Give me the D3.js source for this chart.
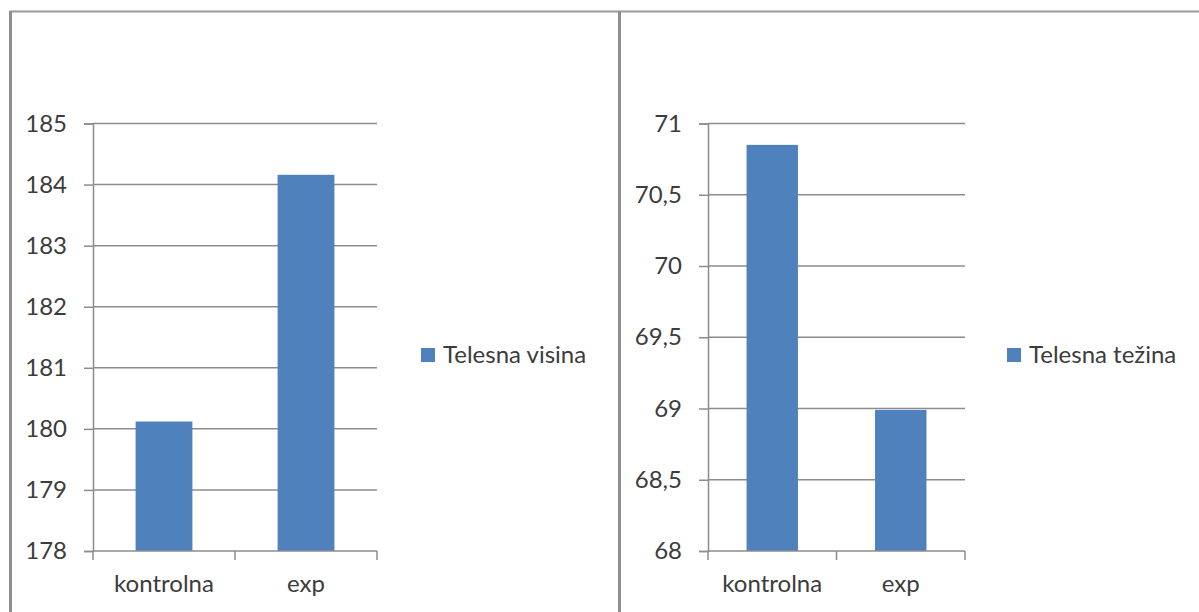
<!DOCTYPE html>
<html>
<head>
<meta charset="utf-8">
<script src="https://cdn.jsdelivr.net/npm/d3@7"></script>
<style>
  html, body { margin: 0; padding: 0; background: #fff; }
  svg { display: block; font-family: Lato, "Open Sans", sans-serif; }
</style>
</head>
<body>
<svg id="chart" width="1199" height="612"></svg>
<script>
// Group names shared by both panels
const categories = ["kontrolna", "exp"];

// Body height (cm) per group
const heightValues = [180.12, 184.16];
const heightTicks = [178, 179, 180, 181, 182, 183, 184, 185];
const heightSeries = "Telesna visina";

// Body weight (kg) per group
const weightValues = [70.85, 68.99];
const weightTicks = [68, 68.5, 69, 69.5, 70, 70.5, 71];
const weightSeries = "Telesna težina";

const barColor = "#4f81bd";
const gridColor = "#8c8c8c";
const textColor = "#3c3c3c";
const fontSize = 24;

const svg = d3.select("#chart");

// Frame lines around the two panels
svg.append("line").attr("x1", 9).attr("x2", 1199).attr("y1", 11.5).attr("y2", 11.5)
  .attr("stroke", "#9a9a9a").attr("stroke-width", 2);
svg.append("line").attr("x1", 10.5).attr("x2", 10.5).attr("y1", 11).attr("y2", 612)
  .attr("stroke", "#8f8f8f").attr("stroke-width", 3);
svg.append("line").attr("x1", 619.5).attr("x2", 619.5).attr("y1", 11).attr("y2", 612)
  .attr("stroke", "#8f8f8f").attr("stroke-width", 3);

function drawPanel(opts) {
  const { values, ticks, series, left, right, top, bottom, fmt, legendX } = opts;

  const x = d3.scaleBand().domain(categories).range([left, right])
    .paddingInner(0.6).paddingOuter(0.3);
  const y = d3.scaleLinear().domain([ticks[0], ticks[ticks.length - 1]]).range([bottom, top]);

  const g = svg.append("g");

  // Horizontal gridlines
  g.selectAll("line.grid").data(ticks.slice(1)).join("line")
    .attr("class", "grid")
    .attr("x1", left).attr("x2", right)
    .attr("y1", d => y(d)).attr("y2", d => y(d))
    .attr("stroke", gridColor).attr("stroke-width", 1.5);

  // Bars
  g.selectAll("rect.bar").data(values).join("rect")
    .attr("class", "bar")
    .attr("x", (d, i) => x(categories[i]))
    .attr("width", x.bandwidth())
    .attr("y", d => y(d))
    .attr("height", d => bottom - y(d))
    .attr("fill", barColor);

  // Value axis
  const yAxis = d3.axisLeft(y).tickValues(ticks).tickFormat(fmt).tickSize(9).tickPadding(17);
  const ya = g.append("g").attr("transform", `translate(${left},0)`).call(yAxis);
  ya.select(".domain").attr("stroke", gridColor).attr("stroke-width", 1.5);
  ya.selectAll(".tick line").attr("stroke", gridColor).attr("stroke-width", 1.5);
  ya.selectAll(".tick text").attr("fill", textColor)
    .style("font-size", fontSize + "px").style("font-family", "Lato, 'Open Sans', sans-serif");

  // Category axis with ticks on the band edges
  const xa = g.append("g").attr("transform", `translate(0,${bottom})`);
  xa.append("line").attr("x1", left).attr("x2", right)
    .attr("stroke", gridColor).attr("stroke-width", 1.5);
  const edges = [left, ...categories.map(c => x(c) + x.bandwidth() + x.step() * 0.3)];
  xa.selectAll("line.edge").data(edges).join("line")
    .attr("class", "edge")
    .attr("x1", d => d).attr("x2", d => d).attr("y1", 0).attr("y2", 9)
    .attr("stroke", gridColor).attr("stroke-width", 1.5);
  xa.selectAll("text").data(categories).join("text")
    .attr("x", d => x(d) + x.bandwidth() / 2)
    .attr("y", 41)
    .attr("text-anchor", "middle")
    .attr("fill", textColor)
    .style("font-size", fontSize + "px")
    .text(d => d);

  // Legend
  const lg = g.append("g").attr("transform", `translate(${legendX},${355})`);
  lg.append("rect").attr("x", 0).attr("y", -7).attr("width", 14).attr("height", 14).attr("fill", barColor);
  lg.append("text").attr("x", 22).attr("y", 8).attr("fill", textColor)
    .style("font-size", fontSize + "px").text(series);
}

const commaFmt = d => String(d).replace(".", ",");

drawPanel({
  values: heightValues, ticks: heightTicks, series: heightSeries,
  left: 93, right: 377, top: 123.5, bottom: 551,
  fmt: commaFmt, legendX: 421
});

drawPanel({
  values: weightValues, ticks: weightTicks, series: weightSeries,
  left: 708, right: 965, top: 123.5, bottom: 551,
  fmt: commaFmt, legendX: 1007
});
</script>
</body>
</html>
